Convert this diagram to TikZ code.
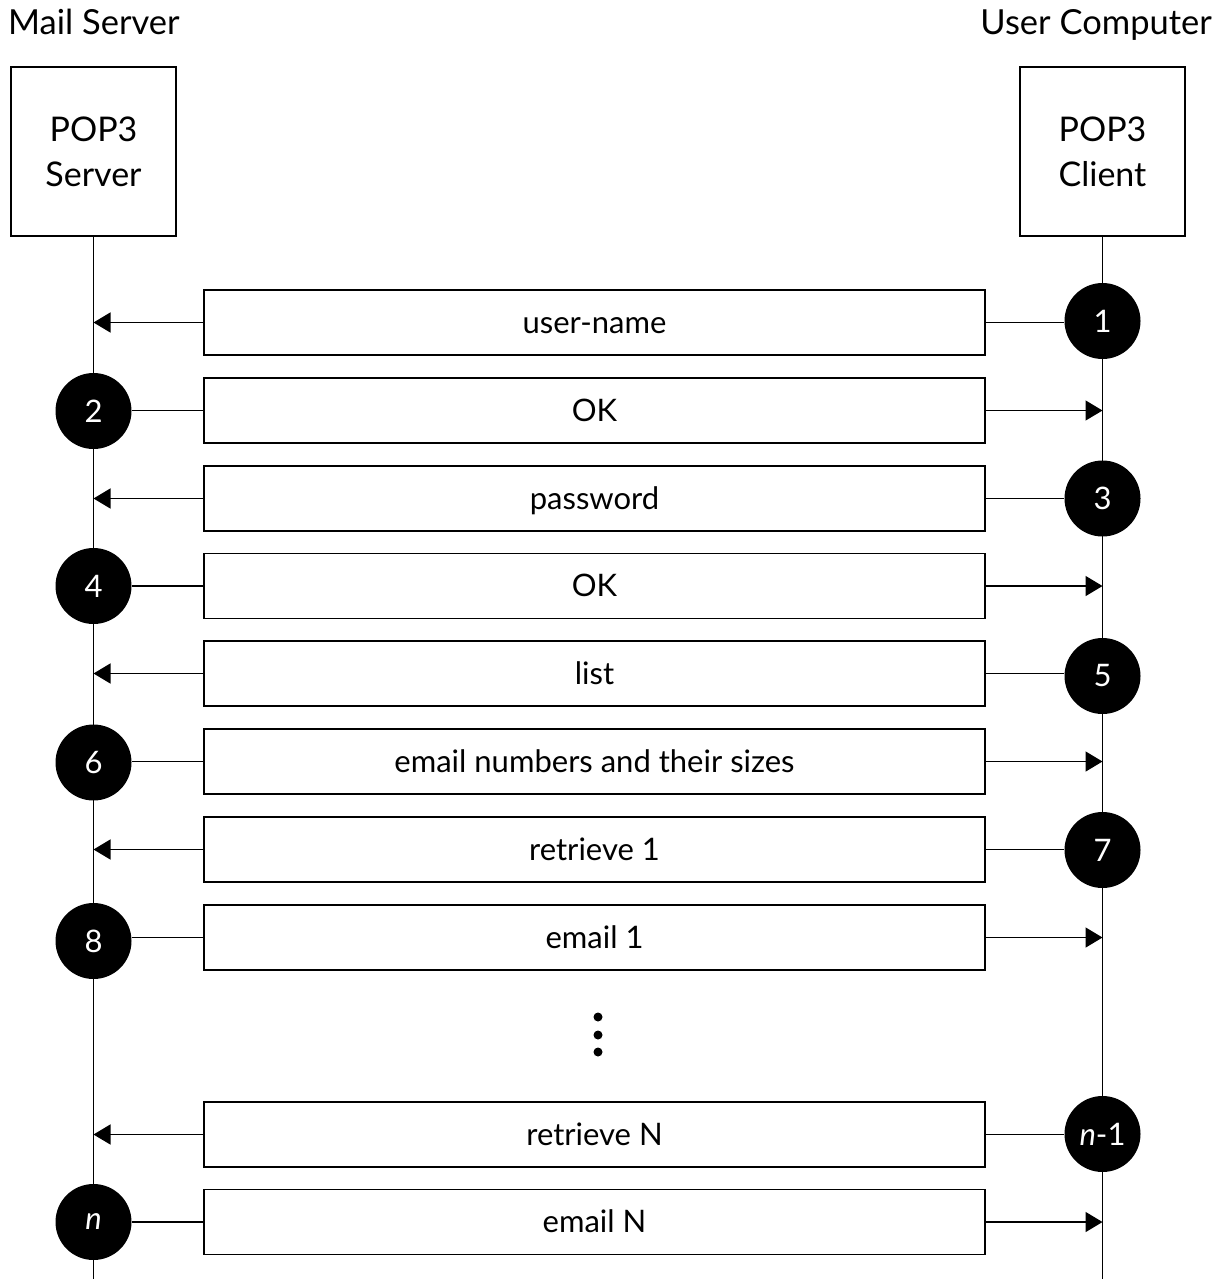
\documentclass[tikz,border=0pt]{standalone}
\usepackage{fontspec}
\setmainfont{Lato}
\usetikzlibrary{arrows.meta}
\begin{document}
\begin{tikzpicture}[x=1pt,y=-1pt,
 lbl/.style={font=\fontsize{34.5}{36}\selectfont, inner sep=0},
 actor/.style={draw, line width=1.5pt, minimum width=165, minimum height=169, align=center, font=\fontsize{34}{45}\selectfont, inner sep=0},
 msg/.style={draw, line width=1.8pt, minimum width=781, minimum height=65, inner sep=0, font=\fontsize{31}{32}\selectfont, text height=24pt, text depth=3pt},
 num/.style={circle, fill=black, minimum size=76, inner sep=0, text=white, font=\fontsize{31}{31}\selectfont},
 dotn/.style={circle, fill=black, minimum size=9, inner sep=0},
 life/.style={line width=1.5pt},
 conn/.style={line width=1.5pt},
 arr/.style={line width=1.5pt, -{Triangle[length=17pt,width=20pt]}},
]
\useasboundingbox[fill=white] (0,0) rectangle (1225,1279);
\node[lbl, anchor=base west] (ms) at (8,35) {Mail Server};
\node[lbl, anchor=base east] (uc) at (1212,35) {User Computer};
\node[actor] (srv) at (93.5,151.5) {POP3\\Server};
\node[actor] (cli) at (1102.5,151.5) {POP3\\Client};
\coordinate (srvend) at (93.5,1279);
\coordinate (cliend) at (1102.5,1279);
\draw[life] (srv.south) -- (srvend);
\draw[life] (cli.south) -- (cliend);

% row 1: client -> server
\node[msg] (m1) at (594.5,322.5) {user-name};
\node[num] (c1) at (1102.5,321) {1};
\coordinate (a1) at (93.5,322.5);
\draw[conn] (m1.east) -- (c1.west |- m1.east);
\draw[arr] (m1.west) -- (a1 |- m1.west);
% row 2: server -> client
\node[msg] (m2) at (594.5,410.5) {OK};
\node[num] (c2) at (93.5,411) {2};
\coordinate (a2) at (1102.5,410.5);
\draw[conn] (m2.west) -- (c2.east |- m2.west);
\draw[arr] (m2.east) -- (a2 |- m2.east);
% row 3
\node[msg] (m3) at (594.5,498.5) {password};
\node[num] (c3) at (1102.5,498.5) {3};
\coordinate (a3) at (93.5,498.5);
\draw[conn] (m3.east) -- (c3.west |- m3.east);
\draw[arr] (m3.west) -- (a3 |- m3.west);
% row 4
\node[msg] (m4) at (594.5,586) {OK};
\node[num] (c4) at (93.5,586) {4};
\coordinate (a4) at (1102.5,586);
\draw[conn] (m4.west) -- (c4.east |- m4.west);
\draw[arr] (m4.east) -- (a4 |- m4.east);
% row 5
\node[msg] (m5) at (594.5,673.5) {list};
\node[num] (c5) at (1102.5,676) {5};
\coordinate (a5) at (93.5,673.5);
\draw[conn] (m5.east) -- (c5.west |- m5.east);
\draw[arr] (m5.west) -- (a5 |- m5.west);
% row 6
\node[msg] (m6) at (594.5,761.5) {email numbers and their sizes};
\node[num] (c6) at (93.5,762.5) {6};
\coordinate (a6) at (1102.5,763.5);
\draw[conn] (m6.west) -- (c6.east |- m6.west);
\draw[arr] (m6.east) -- (a6 |- m6.east);
% row 7
\node[msg] (m7) at (594.5,849.5) {retrieve 1};
\node[num] (c7) at (1102.5,850) {7};
\coordinate (a7) at (93.5,849.5);
\draw[conn] (m7.east) -- (c7.west |- m7.east);
\draw[arr] (m7.west) -- (a7 |- m7.west);
% row 8
\node[msg] (m8) at (594.5,937.5) {email 1};
\node[num] (c8) at (93.5,941) {8};
\coordinate (a8) at (1102.5,942);
\draw[conn] (m8.west) -- (c8.east |- m8.west);
\draw[arr] (m8.east) -- (a8 |- m8.east);
% dots
\node[dotn] (d1) at (598,1017) {};
\node[dotn] (d2) at (598,1035) {};
\node[dotn] (d3) at (598,1052) {};
% row n-1
\node[msg] (m9) at (594.5,1134.5) {retrieve N};
\node[num] (c9) at (1102.5,1134) {\textit{n}-1};
\coordinate (a9) at (93.5,1134.5);
\draw[conn] (m9.east) -- (c9.west |- m9.east);
\draw[arr] (m9.west) -- (a9 |- m9.west);
% row n
\node[msg] (m10) at (594.5,1222) {email N};
\node[num] (c10) at (93.5,1222) {\textit{n}};
\coordinate (a10) at (1102.5,1222);
\draw[conn] (m10.west) -- (c10.east |- m10.west);
\draw[arr] (m10.east) -- (a10 |- m10.east);
\end{tikzpicture}
\end{document}
